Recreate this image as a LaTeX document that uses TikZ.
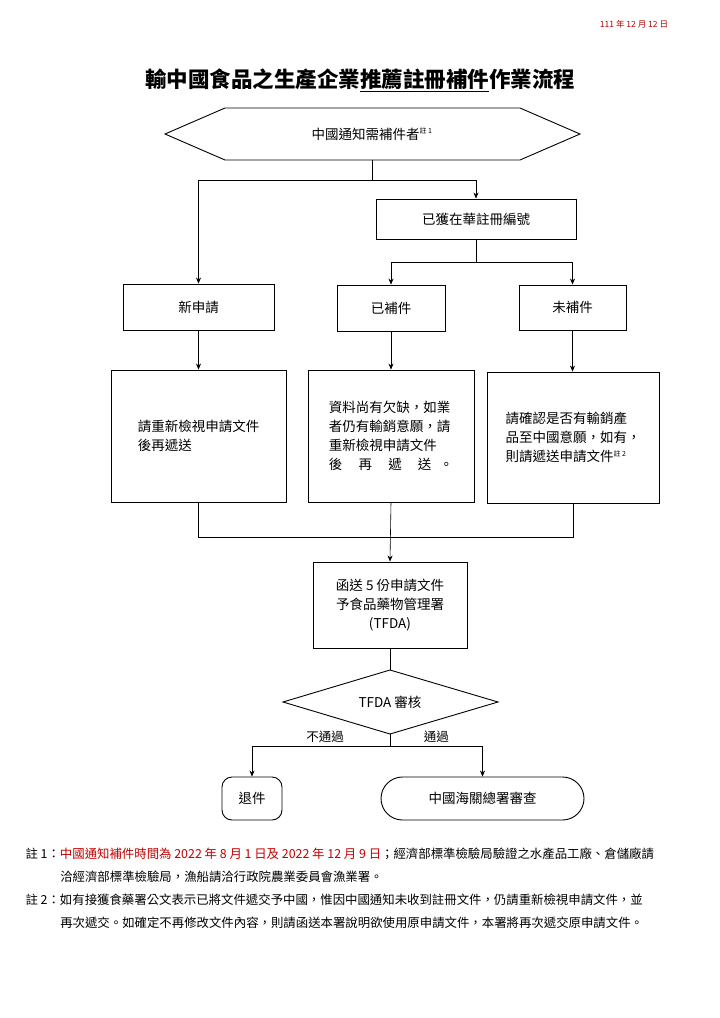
\documentclass[tikz,border=0pt]{standalone}
\usepackage{fontspec}
\setmainfont{Noto Sans CJK TC}
\usetikzlibrary{arrows.meta,shapes.misc}
\begin{document}
\begin{tikzpicture}[x=1pt,y=-1pt,
  box/.style={draw,line width=0.9pt,inner sep=0pt},
  ln/.style={line width=0.6pt},
  ar/.style={line width=0.6pt,-{Stealth[length=6pt,width=5pt]}},
  tx/.style={font=\fontsize{13.5}{19}\selectfont,align=left}]
\useasboundingbox (0,0) rectangle (720,1018);
\node[text=red!70!black,font=\fontsize{8.5}{10}\selectfont] (date) at (634,24) {111 年 12 月 12 日};
\node[font=\fontsize{21.5}{24}\selectfont\bfseries] (title) at (360,80) {輸中國食品之生產企業\underline{推薦註冊補件}作業流程};
\draw[line width=0.9pt] (165,134) -- (225,108) -- (520,108) -- (580,134) -- (520,160) -- (225,160) -- cycle;
\node[tx] (hex) at (372,134) {中國通知需補件者\textsuperscript{\fontsize{7}{7}\selectfont 註 1}};
\coordinate (hb) at (372,160);
\node[box,minimum width=200,minimum height=40,tx] (reg) at (476,219) {已獲在華註冊編號};
\node[box,minimum width=151,minimum height=46,tx] (new) at (198.5,307) {新申請};
\node[box,minimum width=108,minimum height=46,tx] (done) at (391,308) {已補件};
\node[box,minimum width=107,minimum height=45,tx] (not) at (572.5,307.5) {未補件};
\node[box,minimum width=175,minimum height=132,tx] (b1) at (198.5,436) {請重新檢視申請文件\\後再遞送};
\node[box,minimum width=166,minimum height=132,tx] (b2) at (391,436) {資料尚有欠缺，如業\\者仍有輸銷意願，請\\重新檢視申請文件\\後\hspace{1.2em}再\hspace{1.2em}遞\hspace{1.2em}送\hspace{0.6em}。};
\node[box,minimum width=172,minimum height=131,tx] (b3) at (573,437.5) {請確認是否有輸銷產\\品至中國意願，如有，\\則請遞送申請文件\textsuperscript{\fontsize{7}{7}\selectfont 註 2}};
\node[box,minimum width=154,minimum height=86,tx,align=center] (send) at (390,605) {函送 5 份申請文件\\予食品藥物管理署\\(TFDA)};
\draw[line width=0.9pt] (283,702) -- (390,670) -- (498,702) -- (390,734) -- cycle;
\coordinate (dt) at (390,670); \coordinate (db) at (390,734);
\node[tx] (dia) at (390,702) {TFDA 審核};
\node[box,rounded corners=10pt,minimum width=60,minimum height=43,tx] (ret) at (252,798.5) {退件};
\node[box,rounded rectangle,minimum width=203,minimum height=43,tx] (cus) at (482.5,798.5) {中國海關總署審查};
\draw[ln] (hb) -- (372,180) coordinate (h1);
\draw[ar] (h1) -| (new.north);
\draw[ar] (h1) -| (reg.north);
\draw[ln] (reg.south) -- (476,262) coordinate (r1);
\draw[ar] (r1) -| (done.north);
\draw[ar] (r1) -| (not.north);
\draw[ar] (new) -- (new|-b1.north);
\draw[ar] (done) -- (b2);
\draw[ar] (not) -- (not|-b3.north);
\draw[ln] (b1.south) -- (198.5,537) -- (573,537) -- (b3.south);
\draw[ar] (b2.south) -- (send.north);
\draw[ln] (send.south) -- (dt);
\draw[ln] (db) -- (390,746) coordinate (d1);
\draw[ar] (d1) -| node[pos=0.235,above,tx,font=\fontsize{12.5}{14}\selectfont] (l1) {不通過} (ret.north);
\draw[ar] (d1) -| node[pos=0.25,above,tx,font=\fontsize{12.5}{14}\selectfont] (l2) {通過} (cus.north);
\node[anchor=north west,font=\fontsize{12.4}{23.5}\selectfont,align=left] (n1) at (22,844) {註 1：\textcolor{red!75!black}{中國通知補件時間為 2022 年 8 月 1 日及 2022 年 12 月 9 日}；經濟部標準檢驗局驗證之水產品工廠、倉儲廠請\\\hspace{2.8em}洽經濟部標準檢驗局，漁船請洽行政院農業委員會漁業署。};
\node[anchor=north west,font=\fontsize{12.4}{23.5}\selectfont,align=left] (n2) at (22,890) {註 2：如有接獲食藥署公文表示已將文件遞交予中國，惟因中國通知未收到註冊文件，仍請重新檢視申請文件，並\\\hspace{2.8em}再次遞交。如確定不再修改文件內容，則請函送本署說明欲使用原申請文件，本署將再次遞交原申請文件。};
\end{tikzpicture}
\end{document}
